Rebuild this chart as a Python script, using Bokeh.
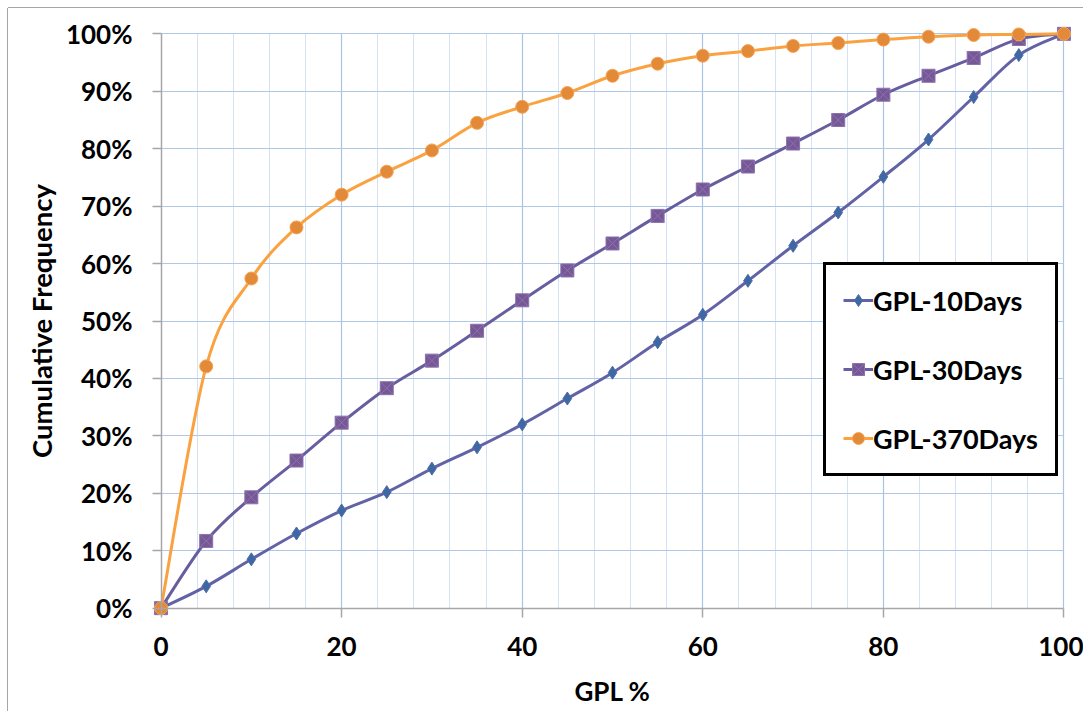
from bokeh.plotting import figure
from bokeh.models import (Range1d, FixedTicker, PrintfTickFormatter, Legend, LegendItem, Grid,
                          LinearAxis, CustomJSTickFormatter)
from bokeh.embed import file_html
from bokeh.resources import INLINE

# ---- data ----
gpl = [0, 5, 10, 15, 20, 25, 30, 35, 40, 45, 50, 55, 60, 65, 70, 75, 80, 85, 90, 95, 100]
gpl_10days = [0, 3.8, 8.5, 13.0, 17.0, 20.2, 24.3, 28.0, 32.0, 36.5, 41.0, 46.3, 51.1, 57.0, 63.1, 68.9, 75.1, 81.6, 89.0, 96.3, 100]
gpl_30days = [0, 11.7, 19.3, 25.7, 32.3, 38.3, 43.1, 48.3, 53.6, 58.8, 63.5, 68.3, 72.9, 76.9, 80.9, 85.0, 89.4, 92.7, 95.8, 99.1, 100]
gpl_370days = [0, 42.1, 57.4, 66.3, 72.0, 76.0, 79.7, 84.5, 87.3, 89.7, 92.7, 94.8, 96.2, 97.0, 97.9, 98.4, 99.0, 99.5, 99.8, 99.9, 100]
series_names = ["GPL-10Days", "GPL-30Days", "GPL-370Days"]
x_ticks = [0, 20, 40, 60, 80, 100]
y_ticks = [0, 10, 20, 30, 40, 50, 60, 70, 80, 90, 100]

FONT = "Lato"
AXIS_GRAY = "#A6A6A6"


def smooth_segments(xs, ys):
    """Bezier control points (Excel-like smoothed line) built from the data points."""
    n = len(xs)
    d = dict(x0=[], y0=[], x1=[], y1=[], cx0=[], cy0=[], cx1=[], cy1=[])
    for i in range(n - 1):
        xp, yp = (xs[i - 1], ys[i - 1]) if i > 0 else (xs[i], ys[i])
        xn, yn = (xs[i + 2], ys[i + 2]) if i + 2 < n else (xs[i + 1], ys[i + 1])
        d["x0"].append(xs[i]); d["y0"].append(ys[i])
        d["x1"].append(xs[i + 1]); d["y1"].append(ys[i + 1])
        d["cx0"].append(xs[i] + (xs[i + 1] - xp) / 6.0)
        d["cy0"].append(ys[i] + (ys[i + 1] - yp) / 6.0)
        d["cx1"].append(xs[i + 1] - (xn - xs[i]) / 6.0)
        d["cy1"].append(ys[i + 1] - (yn - ys[i]) / 6.0)
    return d


p = figure(
    frame_width=930, frame_height=603,
    x_range=Range1d(-1.5, 101.5), y_range=Range1d(-2.5, 102.5),
    output_backend="svg", toolbar_location=None,
    min_border_left=139, min_border_top=11, min_border_right=6, min_border_bottom=89,
    background_fill_color="white", border_fill_color="white",
    outline_line_color=None,
)
p.margin = (8, 0, 0, 8)
p.styles = {"box-shadow": "-1px 0px 0 0 #A6A6A6, 0px -1px 0 0 #A6A6A6"}

# ---- grids ----
p.xgrid.ticker = FixedTicker(ticks=[20, 40, 60, 80, 100],
                             minor_ticks=[v for v in range(4, 100, 4) if v % 20 != 0])
p.xgrid.grid_line_color = "#A9C3E4"
p.xgrid.grid_line_width = 1.2
p.xgrid.minor_grid_line_color = "#D5E2F3"
p.xgrid.minor_grid_line_width = 1
p.ygrid.ticker = FixedTicker(ticks=y_ticks[1:])
p.ygrid.grid_line_color = "#AFC8E8"
p.ygrid.grid_line_width = 1.2
if "cross_bounds" in Grid.properties():
    p.xgrid.cross_bounds = (0, 100)
    p.ygrid.cross_bounds = (0, 100)

# ---- label axes (at frame edge; only texts) ----
for ax in (p.xaxis[0], p.yaxis[0]):
    ax.axis_line_color = None
    ax.major_tick_line_color = None
    ax.minor_tick_line_color = None
    ax.major_tick_out = 0
    ax.major_tick_in = 0
    ax.major_label_text_font = FONT
    ax.major_label_text_font_style = "bold"
    ax.major_label_text_font_size = "26px"
    ax.major_label_text_color = "black"
    ax.axis_label_text_font = FONT
    ax.axis_label_text_font_style = "bold"
    ax.axis_label_text_color = "black"

p.xaxis.axis_label_text_font_size = "26px"
p.yaxis.axis_label_text_font_size = "27.5px"
p.xaxis.ticker = FixedTicker(ticks=x_ticks)
p.yaxis.ticker = FixedTicker(ticks=y_ticks)
p.yaxis.formatter = PrintfTickFormatter(format="%d%%")
p.xaxis.major_label_standoff = 14
p.yaxis.major_label_standoff = 15
p.xaxis.axis_label = "GPL %"
p.yaxis.axis_label = "Cumulative Frequency"
p.xaxis.axis_label_standoff = 16
p.yaxis.axis_label_standoff = 5

# ---- line axes (at data zero; only line + ticks) ----
blank = CustomJSTickFormatter(code="return ''")
for side, ticks in (("below", x_ticks), ("left", y_ticks)):
    la = LinearAxis(fixed_location=0, bounds=(0, 100), ticker=FixedTicker(ticks=ticks),
                    formatter=blank,
                    axis_line_color=AXIS_GRAY, axis_line_width=1.5,
                    major_tick_line_color=AXIS_GRAY, major_tick_line_width=1.5,
                    major_tick_out=9, major_tick_in=0,
                    minor_tick_line_color=None,
                    major_label_text_font_size="1px", major_label_standoff=0)
    p.add_layout(la, side)

# ---- series ----
styles = [
    dict(data=gpl_10days, line="#6262A6", marker="diamond", fill="#3F67A3", mline="#4A6EA8", size=13),
    dict(data=gpl_30days, line="#675E9F", marker="square_x", fill="#765897", mline="#8B72AD", size=13),
    dict(data=gpl_370days, line="#F9A23F", marker="circle", fill="#E38A38", mline="#F6A456", size=13),
]
items = []
for name, st in zip(series_names, styles):
    seg = smooth_segments(gpl, st["data"])
    r_line = p.bezier(x0="x0", y0="y0", x1="x1", y1="y1", cx0="cx0", cy0="cy0", cx1="cx1", cy1="cy1",
                      source=seg, line_color=st["line"], line_width=3)
    r_pts = p.scatter(gpl, st["data"], marker=st["marker"], size=st["size"],
                      fill_color=st["fill"], line_color=st["mline"], line_width=1)
    items.append(LegendItem(label=name, renderers=[r_line, r_pts]))

legend = Legend(
    items=items, location=(676, 146),
    border_line_color="black", border_line_width=3, border_line_alpha=1,
    background_fill_color="white", background_fill_alpha=1,
    padding=17, spacing=33, margin=0,
    glyph_width=30, glyph_height=36, label_height=36, label_standoff=0,
    label_text_font=FONT, label_text_font_style="bold", label_text_font_size="27px",
    label_text_color="black",
)
p.add_layout(legend)

open("out.html", "w").write(file_html(p, INLINE))
